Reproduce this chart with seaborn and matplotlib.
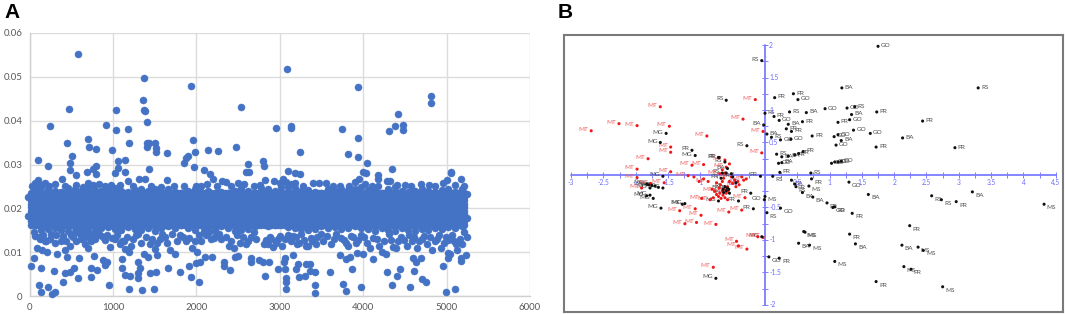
import matplotlib
matplotlib.use("Agg")
import matplotlib.pyplot as plt
import seaborn as sns
import numpy as np
import pandas as pd

# ---- panel A: values ----
# dense band, edges per x position
band_x = [-20, 60, 140, 220, 300, 380, 460, 540, 620, 700, 780, 860, 940, 1020, 1100, 1180, 1260, 1340, 1420, 1500,
          1580, 1660, 1740, 1820, 1900, 1980, 2060, 2140, 2220, 2300, 2380, 2460, 2540, 2620, 2700, 2780, 2860, 2940,
          3020, 3100, 3180, 3260, 3340, 3420, 3500, 3580, 3660, 3740, 3820, 3900, 3980, 4060, 4140, 4220, 4300, 4380,
          4460, 4540, 4620, 4700, 4780, 4860, 4940, 5020, 5100, 5180, 5245]
band_top = [0.0226, 0.0245, 0.0248, 0.0245, 0.0240, 0.0238, 0.0246, 0.0244, 0.0240, 0.0247, 0.0242, 0.0240, 0.0243, 0.0246,
            0.0240, 0.0238, 0.0242, 0.0245, 0.0240, 0.0243, 0.0238, 0.0245, 0.0238, 0.0236, 0.0240, 0.0245, 0.0238, 0.0240,
            0.0235, 0.0238, 0.0236, 0.0240, 0.0246, 0.0240, 0.0236, 0.0246, 0.0243, 0.0240, 0.0248, 0.0248, 0.0246, 0.0240,
            0.0242, 0.0238, 0.0236, 0.0245, 0.0240, 0.0244, 0.0242, 0.0245, 0.0248, 0.0242, 0.0240, 0.0234, 0.0245, 0.0248,
            0.0240, 0.0238, 0.0240, 0.0243, 0.0240, 0.0238, 0.0242, 0.0245, 0.0238, 0.0245, 0.0232]
band_bottom = [0.0182, 0.0165, 0.0150, 0.0152, 0.0155, 0.0150, 0.0148, 0.0158, 0.0150, 0.0148, 0.0152, 0.0155, 0.0158, 0.0152,
               0.0150, 0.0158, 0.0152, 0.0150, 0.0155, 0.0148, 0.0155, 0.0160, 0.0155, 0.0162, 0.0155, 0.0150, 0.0162, 0.0158,
               0.0150, 0.0160, 0.0155, 0.0148, 0.0150, 0.0152, 0.0160, 0.0165, 0.0160, 0.0162, 0.0165, 0.0158, 0.0155, 0.0152,
               0.0150, 0.0152, 0.0160, 0.0155, 0.0158, 0.0152, 0.0155, 0.0160, 0.0155, 0.0152, 0.0148, 0.0155, 0.0150, 0.0148,
               0.0155, 0.0150, 0.0148, 0.0152, 0.0150, 0.0155, 0.0152, 0.0158, 0.0155, 0.0160, 0.0178]
core_levels = [0.0162, 0.0170, 0.0178, 0.0186, 0.0194, 0.0202, 0.0210, 0.0218, 0.0226, 0.0234]
stagger_x = [20, 100, 180, 260, 340, 420, 500, 580, 660, 740, 820, 900, 980, 1060, 1140, 1220, 1300, 1380, 1460, 1540,
             1620, 1700, 1780, 1860, 1940, 2020, 2100, 2180, 2260, 2340, 2420, 2500, 2580, 2660, 2740, 2820, 2900, 2980,
             3060, 3140, 3220, 3300, 3380, 3460, 3540, 3620, 3700, 3780, 3860, 3940, 4020, 4100, 4180, 4260, 4340, 4420,
             4500, 4580, 4660, 4740, 4820, 4900, 4980, 5060, 5140, 5210]

high_x = [582, 3088, 1375, 1932, 3944, 4817, 4817, 1355, 474, 1036, 1375, 1380, 2530, 4418, 243, 916, 1036, 1179, 1406, 2960,
          3131, 3131, 3749, 4315, 4378, 4474, 4474, 3944, 454, 705, 713, 801, 988, 1187, 1406, 1406, 1438, 1510, 1518, 1518,
          1956, 1984, 1649, 2143, 2259, 2470, 3243, 3821, 3944, 4048, 96, 223, 514, 482, 482, 558, 1060, 1139, 1060, 1020,
          1139, 1438, 1849, 1877, 1897, 1968, 2088, 2625, 2593, 2633, 2801, 2817, 3096, 3180, 3243, 4347, 5052, 5052, 691,
          763, 803, 803, 3998, 4030, 4178, 4178, 2160, 2200]
high_y = [0.0553, 0.0517, 0.0497, 0.0479, 0.0477, 0.0457, 0.0441, 0.0448, 0.0426, 0.0425, 0.0424, 0.0421, 0.0431, 0.0416,
          0.0387, 0.0391, 0.0378, 0.0381, 0.0397, 0.0383, 0.0388, 0.0384, 0.0381, 0.0377, 0.0388, 0.0390, 0.0378, 0.0360,
          0.0348, 0.0359, 0.0340, 0.0336, 0.0334, 0.0348, 0.0348, 0.0339, 0.0350, 0.0348, 0.0337, 0.0328, 0.0356, 0.0328,
          0.0326, 0.0332, 0.0331, 0.0340, 0.0328, 0.0325, 0.0318, 0.0304, 0.0310, 0.0296, 0.0319, 0.0304, 0.0287, 0.0276,
          0.0309, 0.0310, 0.0293, 0.0281, 0.0284, 0.0290, 0.0304, 0.0314, 0.0320, 0.0295, 0.0287, 0.0301, 0.0283, 0.0283,
          0.0308, 0.0297, 0.0285, 0.0281, 0.0278, 0.0290, 0.0283, 0.0280, 0.0283, 0.0290, 0.0297, 0.0278, 0.0282, 0.0280,
          0.0276, 0.0268, 0.0278, 0.0268]

fringe_up_x = [60, 100, 180, 300, 390, 700, 1180, 1310, 1390, 1650, 2310, 2360, 2500, 2820, 2930, 3040, 3000, 3180, 3400,
               3470, 3560, 3900, 3950, 4290, 4320, 4500, 4690, 4790, 4960, 5010, 5170, 5210, 1850, 2000, 2130,
               30, 140, 230, 420, 560, 640, 760, 830, 900, 980, 1080, 1240, 1460, 1580, 1730, 2050, 2250, 2420, 2570,
               2690, 2760, 3080, 3130, 3280, 3640, 3720, 3830, 4020, 4110, 4180, 4400, 4570, 4860, 5100]
fringe_up_y = [0.0258, 0.0265, 0.0258, 0.0255, 0.0268, 0.0258, 0.0262, 0.0268, 0.0268, 0.0265, 0.0263, 0.0260, 0.0258,
               0.0265, 0.0263, 0.0268, 0.0258, 0.0258, 0.0258, 0.0258, 0.0258, 0.0260, 0.0268, 0.0262, 0.0262, 0.0254,
               0.0255, 0.0253, 0.0258, 0.0265, 0.0266, 0.0252, 0.0250, 0.0252, 0.0255,
               0.0252, 0.0254, 0.0252, 0.0250, 0.0253, 0.0248, 0.0253, 0.0255, 0.0250, 0.0254, 0.0254, 0.0250, 0.0250,
               0.0248, 0.0250, 0.0250, 0.0250, 0.0250, 0.0256, 0.0250, 0.0254, 0.0260, 0.0256, 0.0252, 0.0250, 0.0252,
               0.0250, 0.0256, 0.0252, 0.0252, 0.0254, 0.0250, 0.0250, 0.0254]

low_x = [12, 56, 140, 108, 140, 224, 272, 304, 288, 404, 428, 532, 484, 584, 592, 732, 732, 772, 812, 904, 924, 884, 948,
         1104, 1112, 1144, 1204, 1192, 1304, 1304, 1324, 1304, 1352, 1496, 1444, 1512, 1416, 1532, 1656, 1804, 1932, 1912,
         2036, 2000, 2040, 2100, 2192, 2328, 2328, 2400, 2460, 2500, 2660, 2660, 2752, 2800, 2872, 2824, 2980, 3060, 3060,
         3048, 3076, 3076, 3076, 3200, 3220, 3160, 3236, 3300, 3312, 3360, 3360, 3420, 3420, 3420, 3600, 3728, 3760, 3800,
         3872, 3800, 3840, 3976, 3928, 4000, 4120, 4280, 4344, 4400, 4444, 4564, 4612, 4600, 4632, 4696, 4708, 4756, 4956,
         4988, 5104, 5016, 5016, 5176, 5176, 5228]
low_y = [0.0068, 0.0086, 0.0064, 0.0025, 0.0009, 0.0020, 0.0004, 0.0010, 0.0057, 0.0031, 0.0052, 0.0063, 0.0055, 0.0042,
         0.0086, 0.0044, 0.0063, 0.0092, 0.0059, 0.0071, 0.0078, 0.0082, 0.0025, 0.0063, 0.0084, 0.0048, 0.0046, 0.0017,
         0.0042, 0.0052, 0.0063, 0.0077, 0.0014, 0.0016, 0.0052, 0.0055, 0.0088, 0.0093, 0.0065, 0.0055, 0.0043, 0.0069,
         0.0031, 0.0076, 0.0078, 0.0090, 0.0090, 0.0078, 0.0069, 0.0059, 0.0088, 0.0091, 0.0078, 0.0086, 0.0082, 0.0078,
         0.0077, 0.0046, 0.0062, 0.0062, 0.0086, 0.0077, 0.0040, 0.0033, 0.0017, 0.0062, 0.0074, 0.0093, 0.0044, 0.0046,
         0.0074, 0.0074, 0.0057, 0.0054, 0.0024, 0.0006, 0.0054, 0.0093, 0.0027, 0.0011, 0.0062, 0.0084, 0.0090, 0.0021,
         0.0097, 0.0096, 0.0084, 0.0055, 0.0024, 0.0046, 0.0062, 0.0021, 0.0058, 0.0086, 0.0078, 0.0086, 0.0038, 0.0031,
         0.0068, 0.0009, 0.0017, 0.0086, 0.0097, 0.0086, 0.0080, 0.0093]

# points hanging under the band
fringe_low_x = [50, 90, 120, 150, 180, 210, 240, 300, 330, 380, 420, 450, 480, 520, 560, 620, 660, 700, 740, 790, 850, 900,
                960, 1020, 1080, 1110, 1150, 1190, 1240, 1300, 1370, 1440, 1500, 1560, 1620, 1680, 1740, 1800, 1880, 1950,
                2010, 2050, 2120, 2180, 2240, 2300, 2390, 2450, 2520, 2590, 2650, 2720, 2830, 2860, 2900, 2950, 3000, 3060,
                3130, 3190, 3230, 3290, 3340, 3390, 3450, 3520, 3610, 3680, 3770, 3820, 3880, 3940, 4010, 4080, 4160, 4220,
                4270, 4330, 4390, 4450, 4520, 4580, 4640, 4700, 4760, 4830, 4880, 4930, 4990, 5040, 5090, 5130, 5190, 5240]
fringe_low_y = [0.0145, 0.0110, 0.0130, 0.0105, 0.0125, 0.0100, 0.0130, 0.0120, 0.0095, 0.0125, 0.0105, 0.0090, 0.0115,
                0.0135, 0.0125, 0.0130, 0.0118, 0.0110, 0.0125, 0.0130, 0.0140, 0.0128, 0.0112, 0.0130, 0.0118, 0.0125,
                0.0108, 0.0100, 0.0130, 0.0142, 0.0095, 0.0118, 0.0108, 0.0130, 0.0135, 0.0105, 0.0095, 0.0140, 0.0125,
                0.0110, 0.0100, 0.0125, 0.0140, 0.0130, 0.0140, 0.0130, 0.0115, 0.0110, 0.0120, 0.0118, 0.0135, 0.0130,
                0.0128, 0.0118, 0.0130, 0.0120, 0.0138, 0.0130, 0.0125, 0.0135, 0.0120, 0.0128, 0.0115, 0.0125, 0.0135,
                0.0125, 0.0118, 0.0142, 0.0128, 0.0115, 0.0135, 0.0128, 0.0135, 0.0110, 0.0130, 0.0100, 0.0095, 0.0128,
                0.0110, 0.0135, 0.0115, 0.0125, 0.0110, 0.0130, 0.0118, 0.0105, 0.0130, 0.0110, 0.0135, 0.0095, 0.0125,
                0.0105, 0.0118, 0.0135]
fringe_low2_x = [70, 110, 165, 195, 260, 320, 400, 440, 500, 540, 600, 640, 680, 720, 770, 820, 880, 930, 990, 1050, 1130,
                 1170, 1220, 1280, 1340, 1400, 1470, 1530, 1590, 1650, 1710, 1770, 1840, 1910, 1980, 2030, 2090, 2150, 2210,
                 2270, 2350, 2420, 2490, 2560, 2620, 2690, 2810, 2880, 2920, 2980, 3030, 3100, 3160, 3210, 3260, 3310, 3370,
                 3430, 3490, 3570, 3650, 3730, 3790, 3850, 3910, 3980, 4040, 4120, 4190, 4250, 4310, 4360, 4420, 4490, 4550,
                 4610, 4670, 4730, 4800, 4860, 4910, 4970, 5020, 5070, 5110, 5160, 5210]
fringe_low2_y = [0.0138, 0.0135, 0.0140, 0.0125, 0.0142, 0.0140, 0.0138, 0.0125, 0.0140, 0.0145, 0.0142, 0.0145, 0.0135,
                 0.0138, 0.0142, 0.0142, 0.0135, 0.0140, 0.0132, 0.0140, 0.0125, 0.0135, 0.0115, 0.0140, 0.0120, 0.0135,
                 0.0130, 0.0120, 0.0142, 0.0122, 0.0142, 0.0125, 0.0135, 0.0132, 0.0125, 0.0140, 0.0148, 0.0145, 0.0132,
                 0.0142, 0.0135, 0.0125, 0.0140, 0.0135, 0.0125, 0.0145, 0.0118, 0.0135, 0.0112, 0.0130, 0.0115, 0.0140,
                 0.0138, 0.0118, 0.0142, 0.0115, 0.0132, 0.0118, 0.0142, 0.0138, 0.0130, 0.0132, 0.0120, 0.0138, 0.0120,
                 0.0140, 0.0122, 0.0132, 0.0115, 0.0125, 0.0142, 0.0112, 0.0125, 0.0128, 0.0140, 0.0135, 0.0125, 0.0138,
                 0.0135, 0.0125, 0.0140, 0.0120, 0.0128, 0.0140, 0.0118, 0.0130, 0.0145]

a_xticks = [0, 1000, 2000, 3000, 4000, 5000, 6000]
a_yticks = [0, 0.01, 0.02, 0.03, 0.04, 0.05, 0.06]
a_ylabels = ["0", "0.01", "0.02", "0.03", "0.04", "0.05", "0.06"]

# ---- panel B: labelled points ----
black_x = [-0.05, -0.60, -1.53, -1.62, -1.13, -1.08, -0.71, -0.28, -0.02, 0.00, 0.15, 0.44, 0.51, 0.38, 0.64, 0.93, 1.27, 1.39,
           1.34, 1.31, 1.13, 1.37, 0.14, 0.22, 0.58, 0.36, 0.33, 0.41, 0.03, 0.10, 0.24, 0.40, 0.73, 1.07, 1.13, 1.18, 1.10,
           0.18, 0.26, 0.36, 0.46, 0.52, 0.59, 0.21, 0.26, 1.03, 1.08, 1.13, 1.18, 0.23, 0.71, 1.75, 1.19, 3.30, 1.73, 2.44,
           1.63, 2.13, 1.72, 2.94, 0.72, 0.68, 1.30, 1.60, 2.58, 2.73, 2.96, 3.21, 4.32, 0.74, 0.96, 1.08, 1.05, 1.35, 2.24,
           0.62, 1.31, 0.69, 1.40, 2.12, 2.37, 2.45, 1.08, 2.15, 2.26, 1.72, 2.75, 0.00, -0.01, 0.24, 0.03, 0.12, 0.41, 0.46,
           0.48, 0.58, 0.60, 0.52, 0.06, 0.22, -1.58, -0.07, -1.80, -1.75, -1.70, -1.65, -1.58, -1.78, -1.83, -1.78, -1.73,
           -1.83, -1.61, -1.24, -1.28, -0.72, -0.41, -0.22, -0.18, -0.05, -0.76]
black_y = [1.76, 1.15, 0.64, 0.50, 0.38, 0.30, 0.27, 0.45, 0.77, 0.95, 1.19, 1.25, 1.16, 0.97, 0.96, 1.02, 1.03, 1.05, 0.93, 0.85,
           0.81, 0.69, 0.90, 0.84, 0.82, 0.78, 0.71, 0.67, 0.63, 0.58, 0.54, 0.55, 0.60, 0.59, 0.62, 0.53, 0.46, 0.32, 0.28,
           0.29, 0.31, 0.33, 0.36, 0.18, 0.19, 0.18, 0.20, 0.20, 0.21, 0.04, 0.03, 1.98, 1.34, 1.34, 0.97, 0.83, 0.64, 0.57,
           0.43, 0.42, -0.06, -0.17, -0.11, -0.30, -0.32, -0.38, -0.41, -0.26, -0.45, -0.34, -0.43, -0.49, -0.50, -0.59,
           -0.78, -0.88, -0.91, -1.08, -1.06, -1.08, -1.11, -1.16, -1.33, -1.41, -1.45, -1.64, -1.72, -0.33, -0.38, -0.51,
           -0.58, -0.02, -0.08, -0.14, -0.18, -0.27, -0.87, -1.05, -1.26, -1.28, -0.02, -0.02, -0.15, -0.16, -0.17, -0.19,
           -0.20, -0.20, -0.14, -0.31, -0.36, -0.32, -0.51, -0.44, -0.45, -0.40, -0.40, -0.28, -0.52, -0.95, -1.59]
black_lab = ["RS", "RS", "MG", "MG", "PR", "MG", "PR", "RS", "BA", "RS", "PR", "PR", "GO", "RS", "BA", "GO", "GO", "RS",
             "BA", "GO", "PR", "GO", "PR", "GO", "PR", "BA", "PR", "PR", "BA", "RS", "GO", "GO", "PR", "GO", "GO", "BA", "GO",
             "RS", "BA", "BA", "PR", "PR", "PR", "GO", "BA", "GO", "GO", "GO", "GO", "PR", "RS", "GO", "BA", "RS", "PR", "PR",
             "GO", "BA", "PR", "PR", "PR", "MS", "GO", "BA", "RS", "RS", "PR", "BA", "MS", "BA", "PR", "PR", "GO", "PR", "PR",
             "MS", "PR", "MS", "BA", "BA", "MS", "MS", "MS", "MS", "PR", "PR", "MS", "MS", "GO", "GO", "RS", "RS", "BA", "PR",
             "RS", "BA", "MS", "BA", "GO", "PR", "MG", "PR", "MG", "MG", "MG", "MG", "MG", "MG", "MG", "MG", "MG",
             "MG", "MG", "MG", "MS", "MG", "PR", "PR", "PR", "MG", "MG"]

red_x = [-2.69, -2.26, -1.98, -1.62, -1.48, -1.46, -1.46, -1.81, -0.90, -0.34, -0.15, -0.03, -0.05, -0.62, -1.98, -1.46, -1.13,
         -0.95, -1.56, -1.77, -1.91, -1.98, -1.19, -1.32, -1.08, -0.99, -1.24, -1.06, -0.76, -0.56, -0.36, -0.31, -0.44, -0.41,
         -0.28, -0.80, -0.11, -0.03, -0.98, -0.78, -0.52, -0.40, -0.33, -0.60, -0.70, -0.85, -0.88, -0.60]
red_y = [0.68, 0.79, 0.76, 1.05, 0.75, 0.43, 0.35, 0.25, 0.60, 0.86, 1.16, 0.67, 0.34, 0.23, 0.09, 0.05, 0.15, 0.16, -0.12, -0.13,
         -0.20, -0.04, -0.01, -0.55, -0.52, -0.62, -0.75, -0.73, -0.76, -0.57, -0.54, -0.35, -1.02, -1.09, -1.14, -1.42, -0.95,
         -0.96, -0.36, -0.25, -0.03, -0.15, -0.08, 0.12, 0.02, -0.38, -0.10, -0.26]

# crowded middle, marks without a readable label
dense_red_x = [-0.75, -0.72, -0.70, -0.68, -0.66, -0.65, -0.63, -0.62, -0.60, -0.58, -0.57, -0.71, -0.69, -0.66, -0.64, -0.55,
               -0.50, -0.47, -0.45, -0.42, -0.36, -0.29, -0.66, -0.55, -0.62, -0.58, -0.75, -0.82, -0.80, -0.95, -1.02, -1.10]
dense_red_y = [-0.30, -0.33, -0.28, -0.36, -0.25, -0.31, -0.22, -0.35, -0.28, -0.18, -0.24, -0.20, -0.15, -0.10, -0.05, -0.10,
               -0.13, -0.08, -0.18, -0.10, -0.03, -0.06, 0.08, 0.17, 0.03, -0.38, -0.12, -0.22, -0.35, -0.06, -0.10, -0.03]
dense_black_x = [-0.68, -0.65, -0.62, -0.60, -0.58, -0.56, -0.64, -0.55, -0.66, -0.60, -0.58, -0.52, -0.50, -0.45, -0.62, -0.72]
dense_black_y = [-0.05, -0.22, -0.18, -0.24, -0.20, -0.22, -0.27, -0.28, 0.03, 0.03, 0.10, 0.02, -0.03, -0.12, 0.20, 0.27]
dense_black_lab = ["PR", "BA", "RS", "", "", "PR", "BA", "", "RS", "", "BA", "", "PR", "", "RS", "PR"]

b_xticks = [-3, -2.5, -2, -1.5, -1, -0.5, 0.5, 1, 1.5, 2, 2.5, 3, 3.5, 4, 4.5]
b_xlabels = ["-3", "-2.5", "-2", "-1.5", "-1", "-0.5", "0.5", "1", "1.5", "2", "2.5", "3", "3.5", "4", "4.5"]
b_yticks = [2, 1.5, 1, 0.5, -0.5, -1, -1.5, -2]
b_ylabels = ["2", "1.5", "1", "0.5", "-0.5", "-1", "-1.5", "-2"]
b_minor_x = [-2.75, -2.25, -1.75, -1.25, -0.75, -0.25, 0.25, 0.75, 1.25, 1.75, 2.25, 2.75, 3.25, 3.75, 4.25]
b_minor_y = [1.75, 1.25, 0.75, 0.25, -0.25, -0.75, -1.25, -1.75]

sns.set_theme(style="white")
plt.rcParams['font.family'] = ['Lato', 'DejaVu Sans']

W, H = 1065, 314
fig = plt.figure(figsize=(W / 100, H / 100), dpi=100)
blue = "#4472C4"

# panel A
ax = fig.add_axes([29.5 / W, (H - 296) / H, 500.5 / W, 263 / H])
core_x = np.repeat(band_x[1:-1], len(core_levels))
core_y = np.tile(core_levels, len(band_x) - 2)
stag_x = np.repeat(stagger_x, len(core_levels))
stag_y = np.tile(core_levels, len(stagger_x))
dfs = [
    pd.DataFrame({"x": core_x, "y": core_y}),
    pd.DataFrame({"x": stag_x, "y": stag_y}),
    pd.DataFrame({"x": band_x, "y": band_top}),
    pd.DataFrame({"x": band_x, "y": band_bottom}),
    pd.DataFrame({"x": high_x, "y": high_y}),
    pd.DataFrame({"x": fringe_up_x, "y": fringe_up_y}),
    pd.DataFrame({"x": low_x, "y": low_y}),
    pd.DataFrame({"x": fringe_low_x, "y": fringe_low_y}),
    pd.DataFrame({"x": fringe_low2_x, "y": fringe_low2_y}),
]
df_a = pd.concat(dfs, ignore_index=True)
sns.scatterplot(data=df_a, x="x", y="y", ax=ax, color=blue, s=26, edgecolor=blue, linewidth=0.3, zorder=3, clip_on=False)
ax.set_xlim(0, 6000)
ax.set_ylim(0, 0.06)
ax.set_xticks(a_xticks)
ax.set_yticks(a_yticks)
ax.set_yticklabels(a_ylabels)
ax.set_xlabel("")
ax.set_ylabel("")
ax.grid(True, color="#dcdcdc", lw=1)
ax.set_axisbelow(True)
ax.tick_params(labelsize=7, colors="#595959", length=0, pad=5)
for s in ["top", "right"]:
    ax.spines[s].set_visible(False)
for s in ["left", "bottom"]:
    ax.spines[s].set_color("#d0d0d0")
    ax.spines[s].set_linewidth(1)

# panel B
bx = fig.add_axes([564 / W, (H - 312) / H, 499 / W, 277 / H])
bx.set_xlim(-3.111, 4.613)
bx.set_ylim(-2.108, 2.154)
bx.set_xticks([])
bx.set_yticks([])
for s in bx.spines.values():
    s.set_color("#7a7a7a")
    s.set_linewidth(1.5)

axis_blue = "#7d7dff"
bx.plot([-3, 4.5], [0, 0], color=axis_blue, lw=1.3, zorder=1)
bx.plot([0, 0], [-2, 2], color=axis_blue, lw=1.3, zorder=1)
bx.plot(b_xticks + b_minor_x, [0] * (len(b_xticks) + len(b_minor_x)), ls="", marker="|", ms=4, mew=0.7, color=axis_blue, zorder=1)
bx.plot([0] * (len(b_yticks) + len(b_minor_y)), b_yticks + b_minor_y, ls="", marker="_", ms=4, mew=0.7, color=axis_blue, zorder=1)
for v, t in zip(b_xticks, b_xlabels):
    bx.annotate(t, (v, 0), xytext=(0, -3), textcoords="offset points", ha="center", va="top", fontsize=4.8, color="#6a6aff")
for v, t in zip(b_yticks, b_ylabels):
    bx.annotate(t, (0, v), xytext=(3, 0), textcoords="offset points", ha="left", va="center", fontsize=4.8, color="#6a6aff")

df_black = pd.DataFrame({"x": black_x + dense_black_x, "y": black_y + dense_black_y})
df_red = pd.DataFrame({"x": red_x + dense_red_x, "y": red_y + dense_red_y})
sns.scatterplot(data=df_red, x="x", y="y", ax=bx, color="#f01818", s=5, edgecolor="none", linewidth=0, zorder=3)
sns.scatterplot(data=df_black, x="x", y="y", ax=bx, color="#111111", s=5, edgecolor="none", linewidth=0, zorder=4)
bx.set_xlabel("")
bx.set_ylabel("")


def put_label(x, y, text, color):
    if not text:
        return
    if x < 0:
        off, ha = (-2, 1), "right"
    elif y < 0:
        off, ha = (2, -2.5), "left"
    else:
        off, ha = (2, 0.5), "left"
    bx.annotate(text, (x, y), xytext=off, textcoords="offset points", ha=ha, va="center",
                fontsize=4.6, color=color, zorder=2)


for x, y, t in zip(black_x, black_y, black_lab):
    put_label(x, y, t, "#4d4d4d")
for x, y, t in zip(dense_black_x, dense_black_y, dense_black_lab):
    put_label(x, y, t, "#4d4d4d")
for x, y in zip(red_x, red_y):
    put_label(x, y, "MT", "#f25c5c")

fig.text(4 / W, 1 - 17.5 / H, "A", fontsize=15, fontweight="bold", family="Liberation Sans", color="black")
fig.text(558 / W, 1 - 17.5 / H, "B", fontsize=15, fontweight="bold", family="Liberation Sans", color="black")

fig.savefig("out.png", dpi=100)
